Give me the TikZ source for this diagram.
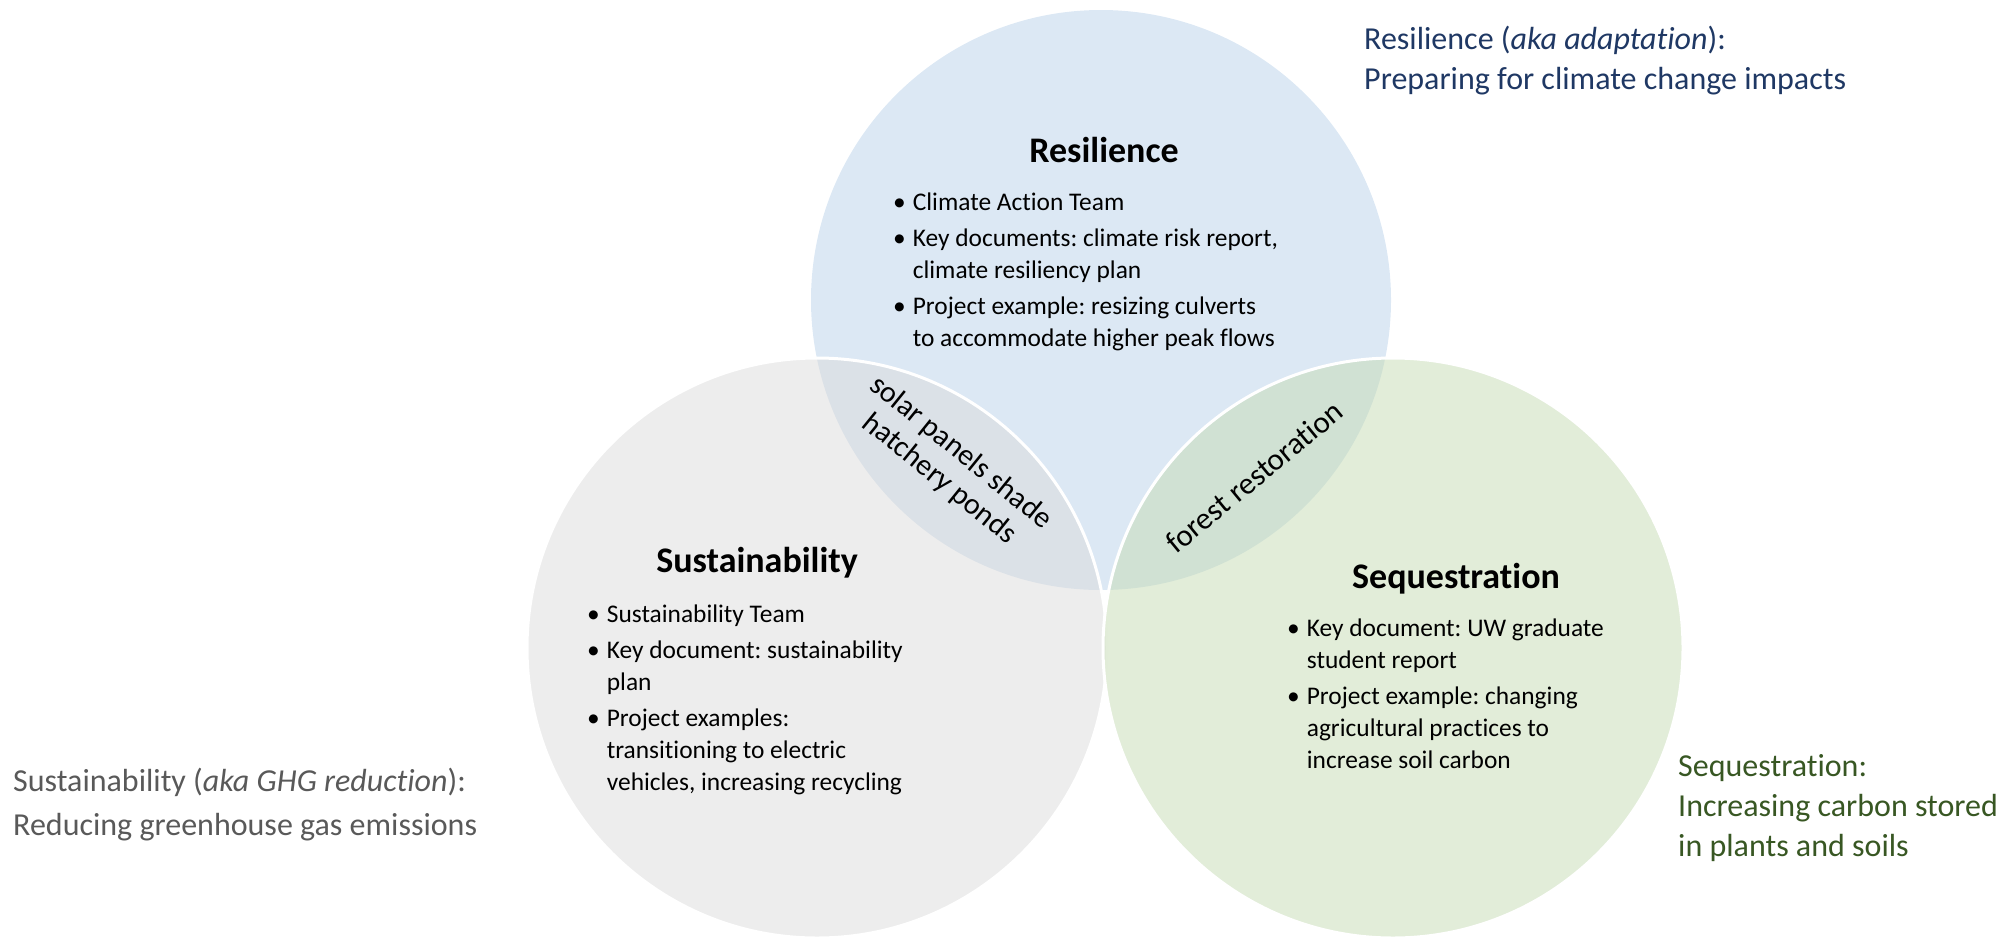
\documentclass[tikz,border=0pt]{standalone}
\usepackage{fontspec}
\setmainfont{Carlito}[Ligatures=NoCommon]
\definecolor{resblue}{HTML}{DCE8F4}
\definecolor{susgray}{HTML}{DBDBDB}
\definecolor{seqgreen}{HTML}{C5DBB3}
\definecolor{restext}{HTML}{1F3864}
\definecolor{sustext}{HTML}{595959}
\definecolor{seqtext}{HTML}{385723}
\begin{document}
\frenchspacing
\begin{tikzpicture}[x=1pt,y=1pt,
  body/.style={font=\fontsize{25.4}{32}\selectfont, inner sep=0pt, anchor=base west},
  ttl/.style={font=\fontsize{36}{44}\selectfont\bfseries, inner sep=0pt},
  side/.style={font=\fontsize{32}{40}\selectfont, inner sep=0pt, anchor=base west},
  lens/.style={font=\fontsize{30}{34}\selectfont, inner sep=0pt, align=center},
  ring/.style={draw=white, line width=3pt, fill opacity=0.5, draw opacity=1}]
\useasboundingbox (0,0) rectangle (2008,-938);
% circles
\path[fill=resblue] (1101,-300) circle (290);
\path[ring, fill=susgray] (817,-648) circle (290);
\path[ring, fill=seqgreen] (1393,-648) circle (290);
% titles
\node[ttl] (rtitle) at (1104,-150) {Resilience};
\node[ttl] (stitle) at (757,-563) {Sustainability};
\node[ttl] (qtitle) at (1456,-579) {Sequestration};
% lists
\node[body] (rlist) at (893,-210) {\begin{tabular}[t]{@{}l@{\hspace{7pt}}l@{}}
\textbullet & Climate Action Team\\[4pt]
\textbullet & Key documents: climate risk report,\\
 & climate resiliency plan\\[4pt]
\textbullet & Project example: resizing culverts\\
 & to accommodate higher peak flows
\end{tabular}};
\node[body] (slist) at (587,-622) {\begin{tabular}[t]{@{}l@{\hspace{7pt}}l@{}}
\textbullet & Sustainability Team\\[4pt]
\textbullet & Key document: sustainability\\
 & plan\\[4pt]
\textbullet & Project examples:\\
 & transitioning to electric\\
 & vehicles, increasing recycling
\end{tabular}};
\node[body] (qlist) at (1287,-636) {\begin{tabular}[t]{@{}l@{\hspace{7pt}}l@{}}
\textbullet & Key document: UW graduate\\
 & student report\\[4pt]
\textbullet & Project example: changing\\
 & agricultural practices to\\
 & increase soil carbon
\end{tabular}};
% lens labels
\node[lens, rotate=-39] (solar) at (950,-466) {solar panels shade\\hatchery ponds};
\node[lens, rotate=39.5, font=\fontsize{31}{34}\selectfont] (forest) at (1254,-477) {forest restoration};
% side labels
\node[side, text=restext] (rside) at (1364,-49) {\begin{tabular}[t]{@{}l@{}}
Resilience (\textit{aka adaptation}):\\
Preparing for climate change impacts
\end{tabular}};
\node[side, text=sustext] (sside) at (13,-791) {\begin{tabular}[t]{@{}l@{}}
Sustainability (\textit{aka GHG reduction}):\\[4pt]
Reducing greenhouse gas emissions
\end{tabular}};
\node[side, text=seqtext] (qside) at (1678,-776) {\begin{tabular}[t]{@{}l@{}}
Sequestration:\\
Increasing carbon stored\\
in plants and soils
\end{tabular}};
\end{tikzpicture}
\end{document}
